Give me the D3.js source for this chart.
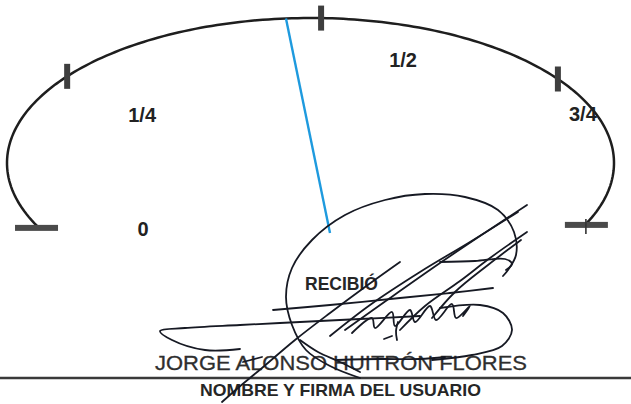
<!DOCTYPE html>
<html>
<head>
<meta charset="utf-8">
<script src="https://cdn.jsdelivr.net/npm/d3@7"></script>
<style>
  html, body { margin: 0; padding: 0; background: #ffffff; }
  svg { display: block; }
</style>
</head>
<body>
<svg id="chart" width="631" height="404"></svg>
<script>
// ---------------- data ----------------
const tickValues = [0, 0.25, 0.5, 0.75, 1];
const tickLabels = ["0", "1/4", "1/2", "3/4", ""];
const needleValue = 0.47;
const stampText = "RECIBIÓ";
const signerName = "JORGE ALONSO HUITRÓN FLORES";
const captionText = "NOMBRE Y FIRMA DEL USUARIO";

// ---------------- layout ----------------
const W = 631, H = 404;
const gauge = { cx: 310.5, cy: 163, rx: 303.5, ry: 145 };
const tickAngles = [205.7, 143.3, 88, 35.4, -24.4];   // degrees on the dial
const labelOffsets = [[106, 3], [75, 38], [82, 42], [25, 35], [0, 0]];
const pivot = { x: 330, y: 233 };

// handwritten signature strokes (page pixels)
const sigStrokes = [
  [[360,378],[330,366],[306,350],[292,325],[286,297],[292,268],[312,240],[345,215],[385,200],[425,194],[465,197],[498,210],[514,232],[516,255],[508,270],[503,276]],
  [[527,205],[480,236],[440,263],[390,298],[345,330]],
  [[518,212],[470,242],[420,272],[370,305],[330,336]],
  [[527,232],[490,258],[460,281],[425,306],[400,330]],
  [[521,240],[488,265],[455,292],[432,318]],
  [[400,262],[365,287],[330,313],[295,340],[262,368],[238,388],[222,402]],
  [[273,310],[330,305],[400,298],[450,293],[493,288]],
  [[440,262],[475,261],[505,259],[512,264],[506,270]],
  [[420,316],[360,319],[300,322],[240,325],[185,328],[160,331],[172,340],[205,350],[240,349]],
  [[440,308],[480,305],[503,313],[512,330],[502,346],[472,355],[432,360]],
  [[352,333],[372,318],[375,328],[392,312],[395,326],[410,310],[415,322],[430,306],[436,320],[452,304],[456,318],[470,306],[463,316]],
  [[300,340],[318,352],[340,362],[360,372]],
  [[337,360],[380,359],[420,359],[445,357]],
  [[243,362],[262,357]],
  [[384,339],[392,336]],
  [[398,322],[396,331],[397,340]]
];

// ---------------- drawing ----------------
const svg = d3.select("#chart");
const FONT = "Liberation Sans, Arial, sans-serif";

const angle = d3.scaleLinear().domain(tickValues).range(tickAngles);
const toRad = d => d * Math.PI / 180;
const pointAt = v => {
  const a = toRad(angle(v));
  return [gauge.cx + gauge.rx * Math.cos(a), gauge.cy - gauge.ry * Math.sin(a)];
};

// dial arc
const arcSamples = d3.range(0, 1.0001, 0.005);
svg.append("path")
  .attr("d", d3.line()(arcSamples.map(pointAt)))
  .attr("fill", "none")
  .attr("stroke", "#1e1e1e")
  .attr("stroke-width", 2.5);

// tick marks
tickValues.forEach((v, i) => {
  const [x, y] = pointAt(v);
  if (i === 0 || i === tickValues.length - 1) {
    svg.append("rect")
      .attr("x", x - 22).attr("y", y - 1).attr("width", 43).attr("height", 6)
      .attr("fill", "#4a4a4a");
    if (i === tickValues.length - 1) {
      svg.append("line")
        .attr("x1", x - 1).attr("x2", x - 1).attr("y1", y - 4).attr("y2", y + 11)
        .attr("stroke", "#333").attr("stroke-width", 1.6);
    }
  } else {
    svg.append("rect")
      .attr("x", x - 3).attr("y", y - 12.5).attr("width", 6).attr("height", 25)
      .attr("fill", "#3e3e3e");
  }
});

// tick labels
tickValues.forEach((v, i) => {
  if (!tickLabels[i]) return;
  const [x, y] = pointAt(v);
  svg.append("text")
    .attr("x", x + labelOffsets[i][0])
    .attr("y", y + labelOffsets[i][1])
    .attr("dy", "0.36em")
    .attr("text-anchor", "middle")
    .attr("font-family", FONT)
    .attr("font-weight", "bold")
    .attr("font-size", 20)
    .attr("fill", "#222")
    .text(tickLabels[i]);
});

// needle
const [nx, ny] = pointAt(needleValue);
svg.append("line")
  .attr("x1", nx).attr("y1", ny)
  .attr("x2", pivot.x).attr("y2", pivot.y)
  .attr("stroke", "#1e9ade")
  .attr("stroke-width", 2.4);

// stamp text
svg.append("text")
  .attr("x", 305).attr("y", 290)
  .attr("textLength", 73).attr("lengthAdjust", "spacingAndGlyphs")
  .attr("font-family", FONT)
  .attr("font-weight", "bold").attr("font-size", 19)
  .attr("fill", "#262626")
  .text(stampText);

// signer name
svg.append("text")
  .attr("x", 155).attr("y", 370)
  .attr("textLength", 372).attr("lengthAdjust", "spacingAndGlyphs")
  .attr("font-family", FONT)
  .attr("font-size", 21)
  .attr("fill", "#2e2e2e")
  .attr("stroke", "#2e2e2e").attr("stroke-width", 0.3)
  .text(signerName);

// signature line
svg.append("line")
  .attr("x1", 0).attr("x2", W).attr("y1", 378).attr("y2", 378)
  .attr("stroke", "#3a3a3a").attr("stroke-width", 2.4);

// caption
svg.append("text")
  .attr("x", 200).attr("y", 396)
  .attr("textLength", 281).attr("lengthAdjust", "spacingAndGlyphs")
  .attr("font-family", FONT)
  .attr("font-weight", "bold").attr("font-size", 17)
  .attr("fill", "#262626")
  .text(captionText);

// signature
const sigLine = d3.line().curve(d3.curveCatmullRom.alpha(0.5));
svg.append("g").selectAll("path")
  .data(sigStrokes)
  .join("path")
  .attr("d", d => sigLine(d))
  .attr("fill", "none")
  .attr("stroke", "#161923")
  .attr("stroke-width", 1.8)
  .attr("stroke-linecap", "round")
  .attr("stroke-linejoin", "round");
</script>
</body>
</html>
